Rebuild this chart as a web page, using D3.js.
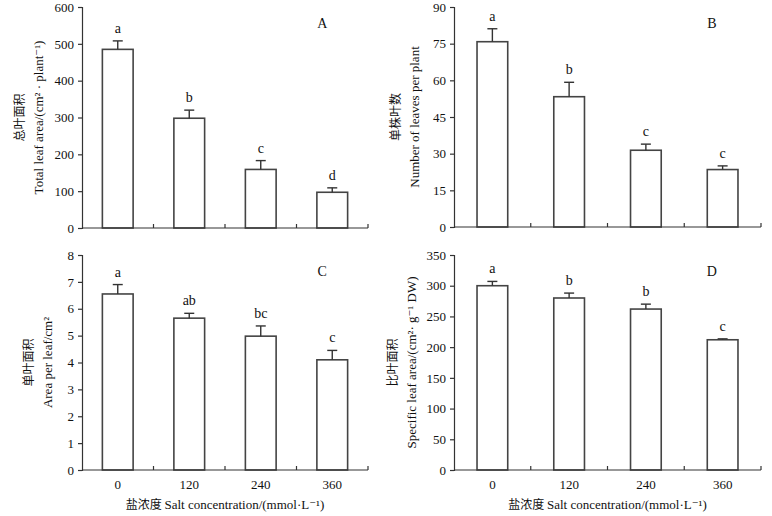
<!DOCTYPE html>
<html lang="en">
<head>
<meta charset="UTF-8">
<title>Salt concentration leaf traits</title>
<script src="https://d3js.org/d3.v7.min.js"></script>
<style>
  body { margin: 0; background: #fff; }
  svg text { font-family: "Liberation Serif", "DejaVu Serif", serif; fill: #111; }
  .cjk { font-family: "Noto Sans CJK SC", sans-serif !important; }
  .tick text { font-size: 13px; }
  .domain, .tick line { stroke: #333; stroke-width: 1.2px; }
</style>
</head>
<body>
<script>
// salt concentration (mmol/L)
const concentrations = ["0", "120", "240", "360"];

// A: total leaf area, cm2 per plant
const totalArea = [485, 298, 159, 97];
const totalAreaErr = [23, 22, 24, 12];
const totalAreaSig = ["a", "b", "c", "d"];

// B: number of leaves per plant
const leafNumber = [75.8, 53.3, 31.4, 23.5];
const leafNumberErr = [5.3, 5.9, 2.5, 1.5];
const leafNumberSig = ["a", "b", "c", "c"];

// C: area per leaf, cm2
const areaPerLeaf = [6.55, 5.65, 4.98, 4.1];
const areaPerLeafErr = [0.35, 0.18, 0.38, 0.35];
const areaPerLeafSig = ["a", "ab", "bc", "c"];

// D: specific leaf area, cm2/g DW
const specificArea = [300, 280, 262, 212];
const specificAreaErr = [7, 8, 8, 1.5];
const specificAreaSig = ["a", "b", "b", "c"];

const yTicksA = [0, 100, 200, 300, 400, 500, 600];
const yTicksB = [0, 15, 30, 45, 60, 75, 90];
const yTicksC = [0, 1, 2, 3, 4, 5, 6, 7, 8];
const yTicksD = [0, 50, 100, 150, 200, 250, 300, 350];

const width = 772, height = 516;
const svg = d3.select("body").append("svg")
    .attr("width", width)
    .attr("height", height);

const panels = [
    { tag: "A", values: totalArea, errs: totalAreaErr, sig: totalAreaSig, ticks: yTicksA,
      box: [82, 368, 7, 228], pad: 0.57, cn: "总叶面积", en: "Total leaf area/(cm² · plant⁻¹)",
      cnX: 20, enX: 38, xLabels: false },
    { tag: "B", values: leafNumber, errs: leafNumberErr, sig: leafNumberSig, ticks: yTicksB,
      box: [454, 761, 7, 227], pad: 0.6, cn: "单株叶数", en: "Number of leaves per plant",
      cnX: 396, enX: 414, xLabels: false },
    { tag: "C", values: areaPerLeaf, errs: areaPerLeafErr, sig: areaPerLeafSig, ticks: yTicksC,
      box: [82, 368, 255, 470], pad: 0.57, cn: "单叶面积", en: "Area per leaf/cm²",
      cnX: 29, enX: 47, xLabels: true },
    { tag: "D", values: specificArea, errs: specificAreaErr, sig: specificAreaSig, ticks: yTicksD,
      box: [454, 761, 255, 470], pad: 0.6, cn: "比叶面积", en: "Specific leaf area/(cm²· g⁻¹ DW)",
      cnX: 393, enX: 411, xLabels: true }
];

panels.forEach(p => {
    const [x0, x1, yTop, yBot] = p.box;
    const g = svg.append("g");

    const x = d3.scaleBand()
        .domain(concentrations)
        .range([x0, x1])
        .paddingInner(p.pad)
        .paddingOuter(p.pad / 2);

    const y = d3.scaleLinear()
        .domain([0, d3.max(p.ticks)])
        .range([yBot, yTop]);

    // bars
    g.selectAll("rect.bar")
        .data(p.values)
        .enter().append("rect")
        .attr("class", "bar")
        .attr("x", (d, i) => x(concentrations[i]))
        .attr("y", d => y(d))
        .attr("width", x.bandwidth())
        .attr("height", d => y(0) - y(d))
        .attr("fill", "#fff")
        .attr("stroke", "#444")
        .attr("stroke-width", 1.6);

    // upper error bars
    const cx = i => x(concentrations[i]) + x.bandwidth() / 2;
    p.values.forEach((v, i) => {
        g.append("line")
            .attr("x1", cx(i)).attr("x2", cx(i))
            .attr("y1", y(v)).attr("y2", y(v + p.errs[i]))
            .attr("stroke", "#333").attr("stroke-width", 1.4);
        g.append("line")
            .attr("x1", cx(i) - 5).attr("x2", cx(i) + 5)
            .attr("y1", y(v + p.errs[i])).attr("y2", y(v + p.errs[i]))
            .attr("stroke", "#333").attr("stroke-width", 1.4);
        g.append("text")
            .attr("x", cx(i))
            .attr("y", y(v + p.errs[i]) - 8)
            .attr("text-anchor", "middle")
            .style("font-size", "14px")
            .text(p.sig[i]);
    });

    // y axis
    g.append("g")
        .attr("transform", `translate(${x0},0)`)
        .call(d3.axisLeft(y).tickValues(p.ticks).tickSize(4).tickPadding(4).tickFormat(d3.format("d")));

    // x axis line with upward boundary ticks
    const xAxis = g.append("g")
        .attr("transform", `translate(0,${yBot})`)
        .call(d3.axisBottom(x).tickSize(0).tickPadding(10));
    if (!p.xLabels) xAxis.selectAll(".tick text").remove();
    xAxis.select(".domain").attr("d", `M${x0},0H${x1}`);
    const step = x.step();
    xAxis.selectAll("line.sep")
        .data(concentrations)
        .enter().append("line")
        .attr("class", "sep")
        .attr("x1", (d, i) => x0 + step * (i + 1))
        .attr("x2", (d, i) => x0 + step * (i + 1))
        .attr("y1", 0).attr("y2", -4)
        .attr("stroke", "#333").attr("stroke-width", 1.2);

    // panel tag
    g.append("text")
        .attr("x", x0 + (x1 - x0) * 0.84)
        .attr("y", yTop + 21)
        .attr("text-anchor", "middle")
        .style("font-size", "14px")
        .text(p.tag);

    // y titles
    const yMid = (yTop + yBot) / 2;
    g.append("text")
        .attr("class", "cjk")
        .attr("transform", `translate(${p.cnX},${yMid}) rotate(-90)`)
        .attr("text-anchor", "middle")
        .attr("dy", "0.35em")
        .style("font-size", "12px")
        .text(p.cn);
    g.append("text")
        .attr("transform", `translate(${p.enX},${yMid}) rotate(-90)`)
        .attr("text-anchor", "middle")
        .attr("dy", "0.35em")
        .style("font-size", "13px")
        .text(p.en);

    // x title
    if (p.xLabels) {
        const t = g.append("text")
            .attr("x", (x0 + x1) / 2)
            .attr("y", 509)
            .attr("text-anchor", "middle")
            .style("font-size", "13px");
        t.append("tspan").attr("class", "cjk").style("font-size", "12px").text("盐浓度 ");
        t.append("tspan").text("Salt concentration/(mmol·L⁻¹)");
    }
});
</script>
</body>
</html>
